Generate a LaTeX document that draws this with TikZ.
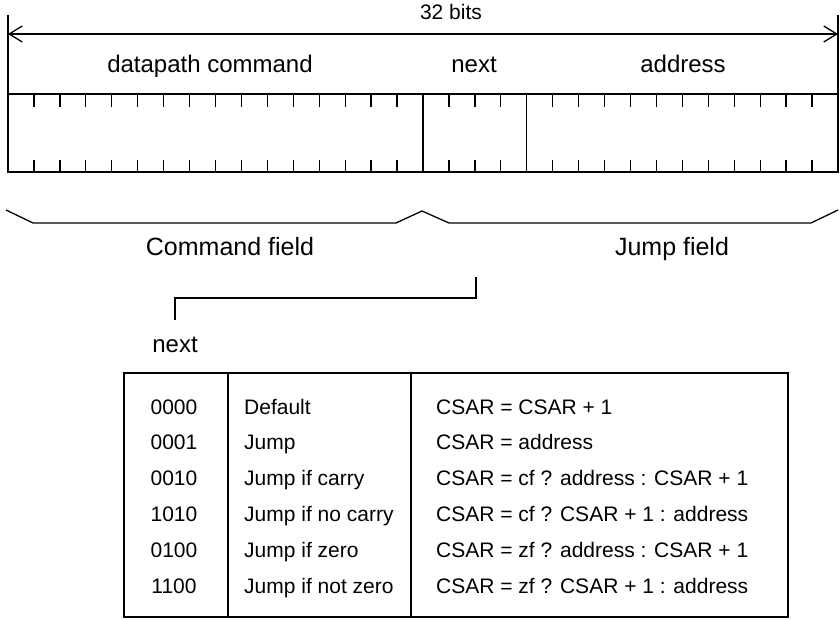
\documentclass[tikz,border=0pt]{standalone}
\usepackage{fontspec}
\setmainfont{Liberation Sans}
\usetikzlibrary{arrows.meta}

\begin{document}
\begin{tikzpicture}[
  x=1pt, y=-1pt,
  >={Straight Barb[length=13pt, width=16pt]},
  wire/.style={line width=1.3pt},
  lbl/.style={font=\fontsize{24}{28}\selectfont, inner sep=0pt, anchor=base},
  big/.style={font=\fontsize{25}{29}\selectfont, inner sep=0pt, anchor=base},
  cell/.style={font=\fontsize{21}{25}\selectfont, inner sep=0pt, anchor=base},
]
\useasboundingbox (0,0) rectangle (840,620);

% === Instruction word ===
\def\bw{25.9375}
\draw[wire] (8,15) -- (8,172) -- (838,172) -- (838,15);
\draw[wire] (8,94) -- (838,94);
\draw[wire] (8+16*\bw,94) -- (8+16*\bw,172);
\draw[wire] (8+20*\bw,94) -- (8+20*\bw,172);
\foreach \i in {1,...,31}{
  \draw[wire] (8+\i*\bw,94) -- ++(0,13);
  \draw[wire] (8+\i*\bw,172) -- ++(0,-12);
}

% width arrow
\coordinate (wl) at (8,34);
\coordinate (wr) at (838,34);
\draw[wire, <->] (wl) -- (wr);
\node[cell] (bits) at (451,20) {32 bits};

% field names
\node[lbl] (cmd) at (210,73) {datapath command};
\node[lbl] (nxt) at (474,73) {next};
\node[lbl] (adr) at (683,73) {address};

% === Braces ===
\draw[wire] (6,210) -- (33,223) -- (396,223) -- (422,211) -- (449,223)
  -- (811,223) -- (838,210);
\node[big] (cmdfield) at (230,256) {Command field};
\node[big] (jmpfield) at (672,256) {Jump field};

% === Connector to table ===
\coordinate (tap) at (476,277);
\node[lbl] (nextlbl) at (175,352) {next};
\draw[wire] (tap) -- ++(0,21) -| ([yshift=32pt]nextlbl.base);

% === Table ===
\draw[wire] (124,373) rectangle (788,617);
\draw[wire] (228,373) -- (228,617);
\draw[wire] (411,373) -- (411,617);

\foreach \code/\name/\expr [count=\r] in {
  0000/Default/{CSAR = CSAR + 1},
  0001/Jump/{CSAR = address},
  0010/Jump if carry/{CSAR = cf ? address : CSAR + 1},
  1010/Jump if no carry/{CSAR = cf ? CSAR + 1 : address},
  0100/Jump if zero/{CSAR = zf ? address : CSAR + 1},
  1100/Jump if not zero/{CSAR = zf ? CSAR + 1 : address}}{
  \node[cell] (code\r) at (174,378.2+35.8*\r) {\code};
  \node[cell, anchor=base west] (name\r) at (244,378.2+35.8*\r) {\name};
  \node[cell, anchor=base west] (expr\r) at (436,378.2+35.8*\r) {\expr};
}

\end{tikzpicture}
\end{document}
